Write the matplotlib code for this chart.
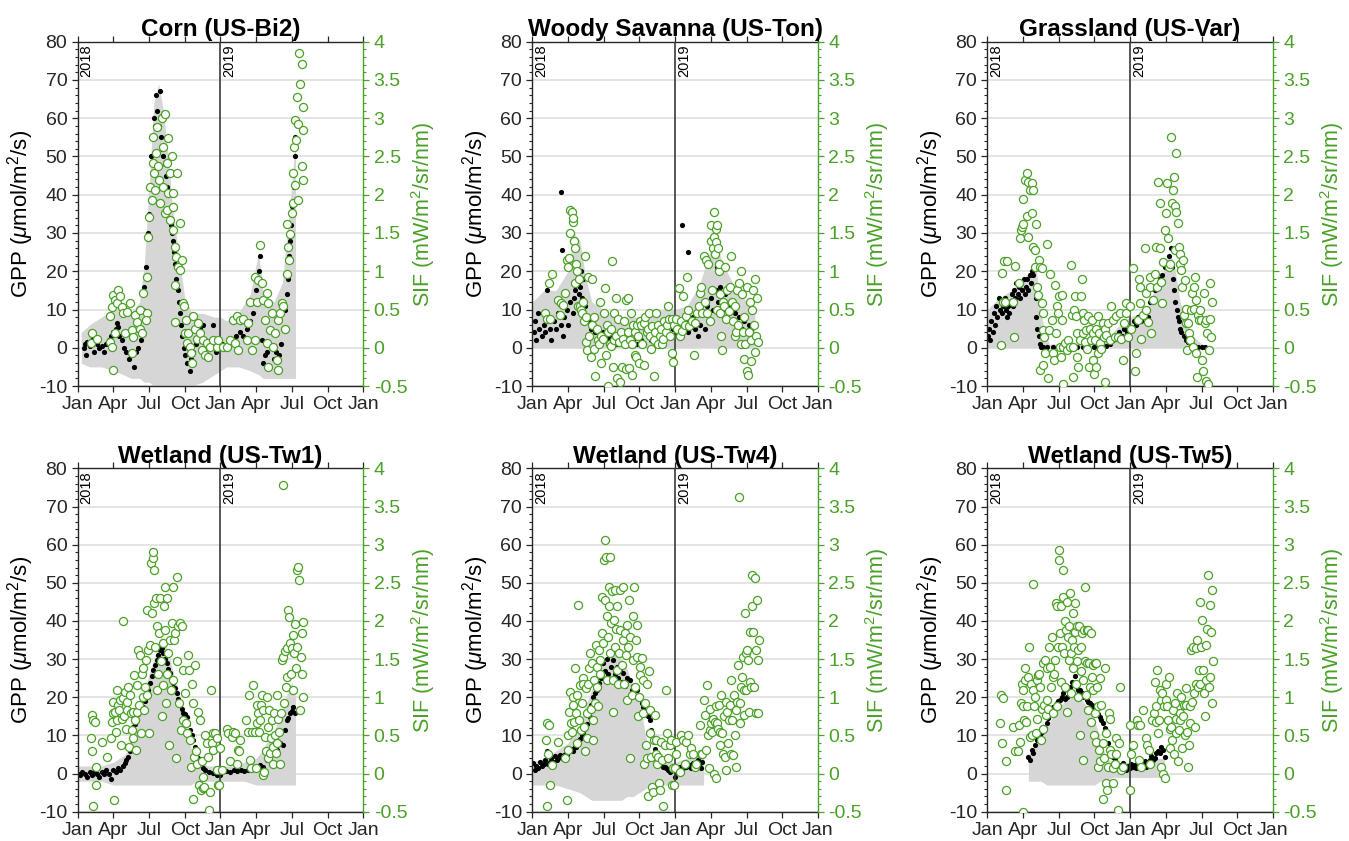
import matplotlib.pyplot as plt
from matplotlib.ticker import MultipleLocator, FuncFormatter

plt.rcParams['font.family'] = ['Liberation Sans', 'DejaVu Sans']
plt.rcParams['mathtext.fontset'] = 'custom'
plt.rcParams['mathtext.rm'] = 'Liberation Sans'
plt.rcParams['mathtext.it'] = 'Liberation Sans:italic'
plt.rcParams['axes.unicode_minus'] = False

# x values are months since 1 Jan 2018
month_ticks = [0, 3, 6, 9, 12, 15, 18, 21, 24]
month_labels = ['Jan', 'Apr', 'Jul', 'Oct', 'Jan', 'Apr', 'Jul', 'Oct', 'Jan']

# ---------------- Corn (US-Bi2) ----------------
bi2_cloud = [(0.3, -4, 4), (1.0, -5, 6), (2.0, -5, 8), (3.0, -6, 10), (3.8, -7, 11), (4.5, -8, 9),
             (5.2, -8, 12), (5.6, -9, 22), (6.0, -9, 42), (6.4, -10, 64), (6.8, -10, 69), (7.2, -10, 62),
             (7.6, -10, 50), (8.0, -10, 36), (8.5, -10, 24), (9.0, -10, 13), (9.6, -10, 9), (10.5, -9, 9),
             (11.5, -7, 8), (12.0, -6, 8), (12.5, -5, 7), (13.5, -5, 9), (14.5, -6, 14), (15.2, -7, 25),
             (15.6, -8, 14), (16.5, -8, 12), (17.2, -8, 17), (17.6, -8, 30), (18.0, -8, 43), (18.3, -8, 55)]
bi2_gpp = [(0.5, 0), (0.6, 1), (0.7, -2), (0.8, 1.5), (1.0, 0.5), (1.2, 2), (1.4, -1), (1.6, 1), (1.8, 0),
           (2.0, 0.5), (2.2, -1), (2.4, 1), (2.6, 2), (2.8, 3), (3.0, 4), (3.2, 5), (3.3, 6.5), (3.4, 5.5),
           (3.5, 3), (3.7, 2), (3.9, 0), (4.1, -1), (4.3, -3), (4.5, -2), (4.7, -5), (4.9, -1), (5.1, 0),
           (5.3, 2), (5.5, 10), (5.6, 16), (5.75, 21), (5.9, 30), (6.0, 35), (6.1, 42), (6.2, 50), (6.3, 55),
           (6.4, 60), (6.5, 58), (6.6, 66), (6.7, 62), (6.8, 58), (6.9, 67), (7.0, 55), (7.1, 52), (7.2, 50),
           (7.3, 48), (7.4, 45), (7.5, 42), (7.6, 40), (7.7, 36), (7.8, 32), (7.9, 30), (8.0, 28), (8.1, 25),
           (8.2, 22), (8.3, 18), (8.4, 15), (8.5, 12), (8.6, 9), (8.7, 6), (8.8, 3), (8.9, 0), (9.0, -2),
           (9.2, -4), (9.4, -6), (9.5, -3), (9.7, -1), (9.9, 1), (10.1, 3), (10.3, 5), (10.5, 6), (10.7, 2),
           (10.9, 0), (11.2, 1), (11.4, 6), (11.6, -1), (11.8, 1), (12.1, 1), (12.4, 0.5), (12.7, 1.5),
           (13.0, 2), (13.3, 3), (13.6, 4), (13.9, 3), (14.2, 5), (14.5, 7), (14.7, 9), (14.9, 12), (15.0, 15),
           (15.1, 18), (15.2, 20), (15.3, 24), (15.45, 2), (15.55, -4), (15.7, -2), (15.9, -1), (16.1, -5),
           (16.3, 0), (16.5, -3), (16.7, -1), (16.9, -2), (17.1, 1), (17.3, 5), (17.45, 10), (17.55, 14),
           (17.65, 18), (17.75, 24), (17.85, 28), (17.95, 32), (18.05, 37), (18.15, 42), (18.25, 50), (18.3, 55)]
bi2_sif = [(1.09, 0.06), (1.18, 0.19), (1.6, 0.12), (2.72, 0.08), (2.86, 0.01), (3.0, -0.29), (2.72, 0.41),
           (2.86, 0.53), (3.0, 0.69), (3.14, 0.62), (3.28, 0.58), (3.42, 0.75), (3.56, 0.67), (3.7, 0.53),
           (3.14, 0.19), (3.84, 0.45), (3.98, 0.19), (4.12, 0.47), (4.4, 0.58), (4.54, 0.23), (4.68, 0.14),
           (4.54, -0.07), (4.82, 0.43), (4.96, 0.34), (5.24, 0.49), (5.24, 0.25), (5.38, 0.19), (5.52, 0.71),
           (5.8, 0.45), (5.74, 0.36), (5.8, 0.93), (5.94, 1.45), (6.02, 1.71), (6.08, 2.1), (6.22, 1.93),
           (6.3, 2.41), (6.36, 2.76), (6.41, 2.28), (6.5, 2.06), (6.58, 2.54), (6.64, 2.89), (6.78, 2.37),
           (6.86, 2.19), (6.92, 1.89), (7.06, 3.0), (7.2, 2.63), (7.2, 2.1), (7.34, 3.06), (7.34, 1.76),
           (7.48, 2.41), (7.48, 1.8), (7.62, 2.74), (7.62, 2.02), (7.76, 2.28), (7.76, 1.67), (7.9, 2.5),
           (7.98, 2.02), (7.98, 1.84), (8.04, 1.54), (8.18, 1.32), (8.32, 2.28), (8.26, 1.19), (8.46, 1.06),
           (8.6, 1.02), (8.74, 1.15), (8.6, 1.63), (8.18, 0.82), (8.18, 0.34), (8.82, 0.58), (8.93, 0.54),
           (9.02, 0.19), (9.1, 0.36), (9.16, 0.06), (9.3, 0.19), (9.44, 0.01), (9.5, -0.07), (9.58, -0.2),
           (9.72, 0.41), (9.86, 0.25), (10.0, 0.12), (10.14, 0.32), (10.28, 0.19), (10.42, -0.03), (10.56, 0.1),
           (10.7, -0.09), (10.84, 0.06), (10.98, -0.12), (11.12, 0.01), (11.4, 0.1), (11.68, 0.01), (11.82, 0.1),
           (12.18, 0.01), (12.52, 0.01), (12.8, 0.1), (13.08, 0.36), (13.22, 0.06), (13.36, 0.41), (13.5, -0.03),
           (13.64, 0.36), (13.92, 0.38), (14.2, 0.1), (14.34, 0.32), (14.48, 0.6), (14.62, -0.03), (14.9, 0.1),
           (14.9, 0.93), (15.04, 0.6), (15.18, 0.88), (15.32, 1.34), (15.46, 0.84), (15.6, 0.62), (15.74, 0.36),
           (15.88, 0.71), (15.88, 0.06), (16.02, 0.58), (16.02, -0.25), (16.16, 0.23), (16.3, 0.45), (16.44, 0.01),
           (16.58, 0.19), (16.72, -0.16), (16.86, -0.29), (16.86, 0.36), (17.0, 0.45), (17.14, 0.58), (17.28, 0.54),
           (17.42, 0.25), (17.56, 0.97), (17.61, 1.62), (17.7, 1.32), (17.78, 1.15), (17.84, 1.49), (17.98, 1.76),
           (18.06, 1.89), (18.12, 2.28), (18.17, 2.63), (18.26, 2.13), (18.26, 2.98), (18.34, 2.71), (18.4, 3.28),
           (18.48, 1.93), (18.54, 2.93), (18.59, 3.85), (18.68, 3.45), (18.82, 3.71), (18.82, 2.37), (18.9, 2.19),
           (18.96, 3.15), (18.96, 2.84)]

# ---------------- Woody Savanna (US-Ton) ----------------
ton_cloud = [(0.0, 0, 12), (1.0, 0, 15), (2.0, 0, 15), (3.0, 0, 20), (3.5, 0, 30), (4.0, 0, 28), (4.5, 0, 18),
             (5.0, 0, 12), (6.0, 0, 10), (7.0, 0, 8), (8.0, 0, 8), (9.0, 0, 8), (10.0, 0, 9), (11.0, 0, 10),
             (12.0, 0, 10), (13.0, 0, 11), (14.0, 0, 16), (15.0, 0, 26), (15.5, 0, 27), (16.0, 0, 22),
             (17.0, 0, 16), (18.0, 0, 12), (18.7, 0, 10)]
ton_gpp = [(0.1, 4), (0.2, 7), (0.3, 2), (0.5, 9), (0.6, 5), (0.8, 3), (1.0, 6), (1.1, 4), (1.2, 15), (1.3, 8),
           (1.5, 5), (1.6, 2), (1.8, 7), (2.0, 5), (2.2, 9), (2.4, 6), (2.43, 40.8), (2.5, 25.6), (2.55, 3),
           (2.7, 8), (2.9, 10), (3.0, 6), (3.2, 12), (3.4, 9), (3.5, 13), (3.6, 15), (3.7, 11), (3.8, 17),
           (3.9, 14), (4.0, 16), (4.1, 20), (4.2, 13), (4.3, 18), (4.4, 11), (4.5, 8), (4.7, 7), (4.9, 5),
           (5.1, 6), (5.3, 4), (5.5, 5), (5.7, 3), (5.9, 4), (6.1, 3), (6.3, 2), (6.5, 3), (6.7, 2), (6.9, 3),
           (7.1, 1), (7.3, 2), (7.6, 1), (7.9, 2), (8.2, 1), (8.5, 2), (8.8, 1), (9.1, 2), (9.4, 1), (9.7, 3),
           (10.0, 2), (10.3, 4), (10.6, 3), (10.9, 5), (11.2, 4), (11.5, 6), (11.8, 5), (12.1, 4), (12.3, 6),
           (12.5, 3), (12.59, 32.2), (12.7, 5), (12.9, 7), (13.1, 25.1), (13.1, 4), (13.3, 6), (13.5, 8),
           (13.7, 5), (13.9, 3), (14.1, 6), (14.3, 9), (14.5, 5), (14.7, 11), (14.9, 7), (15.0, 13), (15.2, 10),
           (15.4, 15), (15.5, 21), (15.6, 12), (15.8, 16), (16.0, 10), (16.2, 14), (16.4, 8), (16.6, 11),
           (16.8, 7), (17.0, 9), (17.2, 6), (17.4, 8), (17.6, 5), (17.8, 7), (18.0, 4), (18.2, 6), (18.4, 5)]
ton_sif = [(1.06, 0.45), (1.2, 0.38), (1.48, 0.38), (1.4, 0.84), (1.62, 0.97), (2.32, 0.43), (2.18, 0.62),
           (2.37, 0.58), (2.6, 0.56), (2.74, 0.71), (2.9, 1.15), (3.0, 1.05), (3.1, 1.17), (3.2, 1.5), (3.15, 1.8),
           (3.35, 1.78), (3.4, 1.65), (3.45, 1.7), (3.5, 1.4), (3.6, 1.3), (3.7, 1.1), (3.55, 0.85), (3.75, 1.0),
           (3.8, 0.55), (3.9, 0.9), (4.0, 0.55), (4.1, 0.5), (4.2, 0.45), (4.3, 0.6), (4.35, 0.35), (4.45, 1.2),
           (4.5, 0.4), (4.55, 0.08), (4.6, -0.03), (4.7, 0.92), (4.8, 0.15), (4.9, -0.12), (5.0, 0.3),
           (5.05, 0.9), (5.15, -0.02), (5.2, 0.4), (5.3, -0.37), (5.4, 0.25), (5.5, 0.1), (5.6, 0.05), (5.7, 0.6),
           (5.75, -0.2), (5.8, 0.15), (5.9, 0.12), (6.0, 0.45), (6.1, 0.78), (6.2, -0.1), (6.25, 0.3),
           (6.35, -0.5), (6.4, 0.2), (6.5, 0.05), (6.6, 0.25), (6.65, 0.02), (6.7, 1.13), (6.8, -0.25),
           (6.85, 0.45), (6.9, 0.1), (7.0, 0.65), (7.05, 0.15), (7.15, -0.4), (7.2, 0.38), (7.3, 0.08),
           (7.4, -0.45), (7.45, 0.2), (7.55, -0.25), (7.6, 0.12), (7.7, 0.35), (7.8, 0.05), (7.85, -0.28),
           (7.9, 0.63), (8.0, 0.2), (8.05, 0.65), (8.1, -0.27), (8.2, 0.1), (8.3, 0.45), (8.35, 0.05),
           (8.4, -0.36), (8.5, 0.3), (8.6, -0.1), (8.65, 0.2), (8.75, -0.12), (8.8, 0.3), (8.9, 0.15),
           (9.0, -0.2), (9.05, 0.35), (9.15, 0.3), (9.25, 0.05), (9.35, -0.23), (9.4, 0.32), (9.5, 0.4),
           (9.6, 0.2), (9.7, 0.25), (9.8, 0.45), (9.9, 0.15), (10.0, -0.02), (10.1, 0.28), (10.2, 0.1),
           (10.25, -0.37), (10.35, 0.2), (10.4, 0.45), (10.55, 0.05), (10.6, 0.3), (10.7, 0.15), (10.8, 0.25),
           (10.9, 0.05), (11.0, 0.12), (11.1, 0.35), (11.2, 0.2), (11.3, 0.3), (11.4, 0.55), (11.5, 0.38),
           (11.6, 0.15), (11.7, 0.38), (11.75, -0.07), (11.85, -0.18), (11.9, 0.3), (12.1, 0.38), (12.2, 0.25),
           (12.3, 0.78), (12.4, 0.15), (12.5, 0.35), (12.6, 0.22), (12.7, 0.68), (12.8, 0.3), (12.9, 0.42),
           (13.0, 0.92), (13.1, 0.5), (13.2, 0.28), (13.4, 0.35), (13.6, -0.1), (13.7, 0.32), (13.8, 0.45),
           (14.0, 0.55), (14.1, 0.72), (14.2, 0.8), (14.25, 0.45), (14.4, 1.2), (14.5, 0.6), (14.6, 1.15),
           (14.7, 0.45), (14.8, 1.1), (14.9, 0.35), (15.0, 1.4), (15.05, 1.6), (15.1, 0.75), (15.2, 1.3),
           (15.25, 1.45), (15.3, 1.78), (15.35, 1.22), (15.4, 1.38), (15.45, 1.55), (15.5, 1.6), (15.55, 0.5),
           (15.6, 1.3), (15.65, 1.0), (15.7, 1.1), (15.75, 0.7), (15.8, 0.45), (15.85, 0.15), (15.9, -0.03),
           (16.0, 0.6), (16.1, 0.55), (16.2, 1.05), (16.3, 0.38), (16.4, 0.75), (16.5, 0.48), (16.6, 0.8),
           (16.7, 1.2), (16.8, 0.6), (16.9, 0.35), (17.0, 0.15), (17.05, 0.55), (17.1, 0.2), (17.2, 0.75),
           (17.3, 0.3), (17.4, 0.85), (17.5, 1.0), (17.55, 0.05), (17.6, 0.7), (17.7, 0.2), (17.75, -0.15),
           (17.8, 0.4), (17.9, 0.05), (18.0, 0.8), (18.05, -0.3), (18.1, -0.35), (18.2, 0.2), (18.3, 0.6),
           (18.35, -0.17), (18.4, 0.1), (18.5, 0.5), (18.55, 0.75), (18.6, 0.3), (18.7, -0.05), (18.75, 0.9),
           (18.8, 0.15), (18.9, 0.65), (18.95, 0.08)]

# ---------------- Grassland (US-Var) ----------------
var_cloud = [(0.0, 0, 10), (1.0, 0, 13), (2.0, 0, 15), (3.0, 0, 18), (3.6, 0, 20), (4.1, 0, 21), (4.4, 0, 12),
             (4.8, 0, 4), (5.2, 0, 1), (6.0, 0, 1), (8.0, 0, 1), (10.0, 0, 2), (10.8, 0, 5), (11.5, 0, 7),
             (12.0, 0, 8), (12.8, 0, 9), (13.5, 0, 11), (14.2, 0, 16), (14.8, 0, 20), (15.3, 0, 25),
             (15.7, 0, 22), (16.2, 0, 12), (16.8, 0, 6), (17.3, 0, 3), (18.0, 0, 1), (18.6, 0, 0.5)]
var_gpp = [(0.05, 3), (0.15, 5), (0.25, 2), (0.35, 7), (0.45, 4), (0.55, 9), (0.65, 6), (0.75, 11), (0.85, 8),
           (0.95, 13), (1.05, 10), (1.15, 12), (1.25, 9), (1.35, 11), (1.45, 13), (1.55, 10), (1.65, 8),
           (1.75, 11), (1.85, 9), (1.95, 12), (2.05, 14), (2.15, 11), (2.25, 15), (2.35, 13), (2.45, 17),
           (2.55, 14), (2.65, 16), (2.75, 13), (2.85, 17), (2.95, 15), (3.05, 18), (3.15, 14), (3.25, 16),
           (3.35, 18), (3.45, 15), (3.55, 19), (3.65, 17), (3.75, 20), (3.85, 19), (3.95, 21), (4.05, 13),
           (4.1, 8), (4.2, 5), (4.3, 3), (4.4, 1), (4.55, 0.3), (4.7, 0.2), (5.0, 0.2), (5.5, 0.3), (6.0, 0.2),
           (6.5, 0.4), (7.0, 0.3), (7.5, 0.2), (8.0, 0.3), (8.5, 0.2), (9.0, 0.3), (9.5, 0.2), (10.0, 0.5),
           (10.3, 1), (10.6, 2), (10.9, 3), (11.1, 4), (11.3, 3), (11.5, 5), (11.7, 4), (11.9, 3), (12.1, 5),
           (12.3, 7), (12.5, 6), (12.7, 8), (12.9, 7), (13.1, 9), (13.3, 10), (13.5, 8), (13.7, 12), (13.9, 13),
           (14.1, 15), (14.3, 16), (14.5, 18), (14.7, 19), (14.9, 21), (15.1, 22), (15.3, 24), (15.4, 26),
           (15.5, 21), (15.6, 18), (15.7, 15), (15.8, 12), (15.9, 10), (16.0, 8), (16.1, 7), (16.2, 5),
           (16.3, 4), (16.5, 3), (16.7, 2), (16.9, 1.5), (17.1, 1), (17.4, 0.5), (17.7, 0.3), (18.0, 0.2),
           (18.3, 0.3)]
var_sif = [(1.2, 0.98), (1.34, 0.6), (1.48, 0.6), (1.43, 1.14), (1.62, 1.14), (1.12, 0.04), (2.18, 0.6),
           (2.27, 0.14), (2.32, 1.07), (2.69, 0.84), (2.74, 1.43), (2.8, 1.54), (2.88, 1.58), (2.97, 1.62),
           (3.02, 1.95), (3.16, 2.19), (3.3, 1.72), (3.36, 2.28), (3.44, 2.17), (3.44, 1.45), (3.58, 2.06),
           (3.72, 1.76), (3.72, 2.15), (3.86, 2.06), (3.86, 1.32), (4.0, 1.28), (4.0, 1.06), (4.08, 1.62),
           (4.14, 0.8), (4.28, 0.69), (4.36, 1.15), (4.42, 1.06), (4.56, 1.04), (4.56, 0.58), (4.64, 0.45),
           (4.7, 0.23), (4.76, 0.14), (4.84, -0.07), (4.42, -0.29), (4.7, -0.22), (4.98, 1.36), (5.12, -0.4),
           (5.26, 0.97), (5.2, 0.23), (5.4, 0.36), (5.48, -0.07), (5.62, -0.16), (5.68, 0.82), (5.76, 0.19),
           (5.82, 0.54), (5.96, 0.45), (6.04, 0.67), (6.1, 0.01), (6.15, -0.12), (6.24, 0.69), (6.24, 0.36),
           (6.38, -0.47), (6.38, 0.01), (6.52, 0.06), (6.66, -0.03), (6.8, 0.1), (6.94, 0.01), (7.02, 1.08),
           (7.08, 0.43), (7.22, 0.01), (7.22, -0.38), (7.27, 0.49), (7.36, 0.68), (7.44, 0.41), (7.5, -0.12),
           (7.55, 0.19), (7.64, -0.25), (7.78, 0.1), (7.86, 0.67), (7.92, 0.9), (8.0, 0.19), (8.06, 0.45),
           (8.14, 0.36), (8.2, 0.08), (8.28, 0.23), (8.34, -0.01), (8.48, 0.41), (8.56, -0.25), (8.62, 0.25),
           (8.67, 0.1), (8.76, 0.36), (8.84, 0.19), (8.9, -0.16), (8.95, -0.34), (9.04, 0.1), (9.12, 0.25),
           (9.17, -0.25), (9.26, -0.07), (9.31, 0.41), (9.4, 0.19), (9.45, 0.06), (9.59, -0.01), (9.68, 0.32),
           (9.79, 0.14), (9.87, -0.45), (9.87, 0.25), (10.01, 0.17), (10.15, 0.32), (10.29, 0.1), (10.43, 0.54),
           (10.57, 0.36), (10.71, 0.14), (10.85, 0.41), (10.99, 0.14), (11.13, 0.45), (11.27, 0.12),
           (11.36, -0.16), (11.47, 0.32), (11.64, 0.58), (11.69, 0.45), (11.83, 0.14), (11.97, 0.54),
           (12.11, 0.25), (12.25, 1.04), (12.39, -0.31), (12.53, -0.07), (12.62, 0.36), (12.76, 0.9),
           (12.81, 0.8), (12.87, 0.58), (12.95, 0.12), (13.09, 0.43), (13.23, 1.3), (13.31, 0.71), (13.37, 0.49),
           (13.51, 0.34), (13.65, 0.93), (13.71, 0.8), (13.79, 0.19), (13.93, 0.62), (14.07, 0.97), (14.21, 1.32),
           (14.27, 0.79), (14.35, 2.17), (14.49, 1.89), (14.55, 1.3), (14.63, 0.86), (14.71, 0.58), (14.77, 1.12),
           (14.91, 1.54), (15.05, 1.76), (15.1, 2.15), (15.19, 1.43), (15.27, 1.06), (15.33, 1.1), (15.47, 2.76),
           (15.55, 1.89), (15.61, 2.06), (15.69, 2.23), (15.75, 1.85), (15.75, 1.28), (15.83, 2.54),
           (15.89, 1.78), (16.03, 1.63), (16.11, 1.32), (16.17, 1.1), (16.22, 1.23), (16.31, 1.02), (16.39, 0.8),
           (16.45, 1.15), (16.5, 0.43), (16.59, 0.88), (16.67, 0.32), (16.73, 0.51), (16.78, -0.03), (16.87, 0.32),
           (16.95, 0.19), (17.06, 0.1), (17.15, 0.49), (17.23, 0.71), (17.29, 0.01), (17.34, 0.51), (17.4, 0.8),
           (17.45, 0.93), (17.51, 0.62), (17.57, -0.07), (17.62, -0.38), (17.71, 0.43), (17.79, 0.36),
           (17.85, 0.49), (17.99, 0.36), (18.07, -0.16), (18.13, -0.31), (18.18, 0.71), (18.27, 0.32),
           (18.35, 0.36), (18.41, -0.43), (18.46, 0.19), (18.55, -0.47), (18.63, -0.03), (18.69, 0.84),
           (18.74, 0.38), (18.83, 0.14), (18.91, 0.6)]

# ---------------- Wetland (US-Tw1) ----------------
tw1_cloud = [(0.0, -2, 2), (1.0, -2, 2), (2.0, -2, 2), (3.0, -3, 3), (4.0, -3, 5), (4.5, -3, 8), (5.0, -3, 13),
             (5.5, -3, 20), (6.0, -3, 26), (6.5, -3, 31), (7.0, -3, 36), (7.5, -3, 33), (8.0, -3, 27),
             (8.5, -3, 21), (9.0, -3, 14), (9.5, -3, 7), (10.0, -2, 3), (11.0, -2, 2), (12.0, -2, 2),
             (13.0, -2, 2), (14.0, -2, 3), (15.0, -3, 4), (15.5, -3, 6), (16.0, -3, 9), (16.5, -3, 11),
             (17.0, -3, 15), (17.5, -3, 20), (18.0, -3, 24), (18.3, -3, 20)]
tw1_gpp = [(0.0, 0), (0.2, -0.5), (0.4, 0.5), (0.6, 0), (0.8, -1), (1.0, 0.3), (1.2, -0.3), (1.4, 0.5),
           (1.6, 0), (1.8, -1), (2.0, 0.5), (2.2, 0), (2.4, 1), (2.6, 0), (2.8, -1.5), (3.0, 1), (3.2, 0.5),
           (3.4, 1.5), (3.56, 0.9), (3.8, 2), (3.98, 2.7), (4.1, 3.5), (4.26, 4.4), (4.4, 6), (4.54, 8.8),
           (4.68, 12.3), (4.82, 13), (4.96, 14), (5.1, 15.5), (5.24, 16.7), (5.38, 17), (5.52, 17.5),
           (5.66, 19), (5.8, 20.2), (5.94, 22), (6.08, 23.7), (6.22, 25.5), (6.36, 27.1), (6.5, 28.5),
           (6.64, 29.8), (6.78, 31), (6.92, 32.4), (7.06, 33), (7.2, 31.5), (7.34, 30), (7.48, 28.9),
           (7.62, 27.5), (7.76, 26.3), (7.9, 25), (8.04, 23.7), (8.18, 22.5), (8.32, 21), (8.46, 19.5),
           (8.6, 18.4), (8.74, 17), (8.88, 15.8), (9.02, 15.5), (9.16, 14.9), (9.3, 13), (9.44, 11.4),
           (9.58, 10), (9.72, 8.8), (9.86, 7), (10.0, 5.3), (10.14, 4), (10.28, 2.7), (10.5, 1.5), (10.7, 0.9),
           (11.0, 0.5), (11.4, 0.05), (11.7, -0.5), (11.96, -0.4), (12.2, 0.6), (12.5, 0.8), (12.8, 0.5),
           (13.1, 0.9), (13.4, 0.6), (13.7, 1), (14.0, 0.7), (14.3, 0.9), (14.6, 1.1), (15.04, 1.4),
           (15.3, 2.2), (15.6, 1.8), (15.88, 3.5), (16.16, 4.4), (16.44, 6.2), (16.72, 6.2), (17.0, 7.9),
           (17.28, 7.5), (17.42, 11.4), (17.56, 14), (17.7, 14.5), (17.84, 15.8), (18.0, 16.5), (18.12, 17.5),
           (18.26, 15.8)]
tw1_sif = [(1.18, 0.77), (1.26, 0.70), (1.46, 0.68), (1.12, 0.46), (1.2, 0.29), (1.26, -0.43), (1.54, 0.09),
           (1.51, -0.15), (2.02, 0.42), (2.44, 0.22), (2.77, 0.46), (2.86, 0.68), (2.94, 0.79), (3.0, 0.94),
           (3.05, -0.35), (3.14, 0.81), (3.22, 0.55), (3.28, 1.09), (3.33, 0.70), (3.42, 0.90), (3.5, 0.83),
           (3.56, 0.96), (3.61, 0.37), (3.7, 0.72), (3.78, 0.99), (3.84, 2.0), (3.89, 0.75), (3.98, 1.07),
           (4.06, 0.59), (4.12, 0.94), (4.17, 0.83), (4.26, 1.14), (4.34, 0.35), (4.4, 1.03), (4.45, 0.79),
           (4.54, 0.57), (4.62, 0.46), (4.68, 0.81), (4.73, 1.29), (4.82, 0.70), (4.9, 0.31), (4.96, 1.16),
           (5.01, 0.81), (5.1, 1.62), (5.18, 0.90), (5.24, 1.55), (5.29, 0.53), (5.38, 1.31), (5.46, 1.01),
           (5.52, 1.38), (5.57, 0.83), (5.66, 1.14), (5.74, 1.49), (5.8, 2.14), (5.85, 1.03), (5.94, 1.62),
           (6.02, 0.53), (6.08, 1.69), (6.13, 2.76), (6.22, 2.1), (6.3, 2.82), (6.36, 2.91), (6.41, 2.23),
           (6.44, 2.67), (6.5, 1.66), (6.58, 2.3), (6.64, 1.09), (6.69, 1.93), (6.78, 1.31), (6.86, 1.84),
           (6.92, 2.30), (6.97, 1.47), (7.06, 0.75), (7.14, 1.71), (7.2, 1.16), (7.25, 2.19), (7.34, 2.45),
           (7.34, 1.88), (7.42, 0.92), (7.48, 1.31), (7.53, 2.3), (7.62, 1.58), (7.7, 0.37), (7.76, 1.75),
           (7.81, 1.09), (7.9, 1.97), (7.98, 2.45), (8.04, 1.23), (8.09, 1.75), (8.18, 1.84), (8.26, 0.2),
           (8.32, 2.58), (8.37, 1.47), (8.46, 1.93), (8.54, 0.92), (8.6, 1.97), (8.65, 0.57), (8.74, 1.93),
           (8.82, 1.36), (8.88, 0.70), (9.02, 1.05), (9.1, 0.66), (9.21, 0.53), (9.3, 1.55), (9.38, 1.36),
           (9.44, 0.44), (9.49, 0.09), (9.58, 1.18), (9.66, -0.33), (9.72, 0.92), (9.77, 0.22), (9.86, 1.42),
           (9.94, 0.29), (10.0, 0.13), (10.14, 0.81), (10.22, -0.15), (10.28, 0.70), (10.36, -0.22),
           (10.42, 0.16), (10.5, -0.04), (10.56, -0.19), (10.61, -0.17), (10.7, 0.5), (10.84, 0.40),
           (10.92, 0.22), (11.06, -0.48), (11.12, -0.24), (11.17, 1.09), (11.26, 0.40), (11.34, 0.53),
           (11.4, 0.31), (11.54, 0.53), (11.68, 0.05), (11.73, 0.46), (11.82, -0.15), (11.9, -0.15),
           (11.96, 0.33), (12.1, 0.05), (12.52, 0.59), (12.66, 0.53), (12.8, 0.16), (12.94, 0.48), (13.08, 0.55),
           (13.22, 0.53), (13.36, 0.13), (13.5, 0.31), (13.58, 0.29), (13.64, 0.44), (14.14, 0.70), (14.34, 0.55),
           (14.42, 1.03), (14.48, 0.18), (14.53, 0.07), (14.62, 0.55), (14.76, 1.16), (14.9, 0.55), (14.98, 0.07),
           (15.04, 0.66), (15.09, 0.90), (15.18, 0.79), (15.26, 0.55), (15.32, 0.70), (15.37, 0.90),
           (15.46, 1.03), (15.54, 0.83), (15.6, -0.02), (15.65, 0.02), (15.74, 0.48), (15.82, 0.29),
           (15.88, 1.01), (15.96, 0.61), (16.02, 0.2), (16.1, 0.83), (16.16, 0.27), (16.21, 0.46), (16.3, 0.70),
           (16.38, 0.35), (16.44, 0.13), (16.52, 0.79), (16.58, 0.5), (16.66, 0.27), (16.72, 1.03), (16.77, 0.40),
           (16.86, 0.72), (16.94, 0.55), (17.0, 0.13), (17.05, 0.79), (17.14, 1.49), (17.22, 3.78), (17.28, 1.53),
           (17.33, 0.92), (17.42, 1.6), (17.5, 1.14), (17.56, 1.64), (17.61, 1.27), (17.7, 2.14), (17.78, 2.05),
           (17.84, 1.71), (17.89, 1.31), (17.98, 1.64), (18.06, 1.09), (18.12, 1.82), (18.17, 1.58),
           (18.26, 1.96), (18.34, 1.38), (18.4, 1.66), (18.45, 2.67), (18.54, 2.71), (18.62, 2.54), (18.68, 0.83),
           (18.73, 1.53), (18.82, 1.84), (18.9, 1.99), (18.96, 1.01), (18.82, 1.31)]

# ---------------- Wetland (US-Tw4) ----------------
tw4_cloud = [(0.0, -3, 3), (1.0, -3, 4), (2.0, -3, 6), (3.0, -4, 8), (4.0, -5, 13), (4.5, -6, 18),
             (5.0, -7, 22), (5.5, -7, 27), (6.0, -7, 30), (6.5, -7, 31), (7.0, -7, 31), (7.5, -7, 30),
             (8.0, -6, 27), (8.5, -6, 23), (9.0, -5, 20), (9.5, -4, 10), (10.0, -3, 5), (11.0, -3, 3),
             (12.0, -3, 3), (13.0, -3, 4), (14.0, -3, 5), (14.4, -3, 5)]
tw4_gpp = [(0.08, 2.7), (0.2, 1), (0.35, 2), (0.5, 1.5), (0.65, 3), (0.8, 2), (0.95, 2.5), (1.1, 3.5),
           (1.2, 6), (1.3, 2.5), (1.45, 3), (1.6, 4), (1.75, 3), (1.9, 4.5), (2.05, 3.5), (2.2, 4), (2.35, 5),
           (2.5, 4), (2.65, 5), (2.8, 5.5), (2.95, 5), (3.1, 6), (3.25, 6.5), (3.4, 6), (3.55, 7), (3.7, 7),
           (3.85, 8), (4.0, 9), (4.15, 10), (4.3, 11), (4.45, 12), (4.6, 13), (4.84, 14.9), (4.95, 18),
           (5.1, 20), (5.26, 21), (5.4, 22), (5.6, 23.7), (5.75, 25), (5.96, 28.9), (6.1, 27), (6.25, 30),
           (6.4, 26), (6.52, 31.5), (6.65, 28), (6.8, 29.8), (6.95, 26), (7.08, 28), (7.2, 25), (7.35, 27),
           (7.5, 24), (7.64, 26.3), (7.8, 23), (7.95, 25), (8.2, 24.5), (8.35, 22), (8.5, 23), (8.76, 21.9),
           (8.9, 20), (9.04, 20.2), (9.18, 18.5), (9.32, 17.5), (9.46, 16.5), (9.6, 15.8), (9.74, 15),
           (9.88, 14), (10.0, 11.5), (10.15, 8.8), (10.3, 6.5), (10.43, 4.4), (10.57, 3.5), (10.71, 2.7),
           (10.85, 2.2), (11.0, 1.8), (11.14, 1.6), (11.27, 1.4), (11.41, 1), (11.55, 0.5), (11.7, 1.2),
           (11.83, 0.9), (11.97, -0.8), (12.1, 0.5), (12.25, 1.2), (12.39, 1.8), (12.53, 1), (12.67, 1.4),
           (12.81, 2.4), (12.95, 1.8), (13.09, 2), (13.23, 2.2), (13.37, 1.5), (13.51, 2.7), (13.65, 2),
           (13.79, 1.8), (13.93, 3.5), (14.07, 2.7), (14.18, 1.5), (14.29, 3.1)]
tw4_sif = [(1.12, 0.44), (1.2, 0.66), (1.34, 0.26), (1.4, 0.64), (1.48, -0.15), (1.2, -0.43), (1.62, 0.11),
           (2.18, 0.42), (2.74, 0.2), (2.88, -0.35), (3.02, 0.31), (3.02, 0.5), (3.1, 0.81), (3.16, 1.07),
           (3.22, 0.66), (3.3, 0.55), (3.38, 1.01), (3.44, 0.9), (3.5, 0.68), (3.58, 1.38), (3.66, 0.79),
           (3.72, 0.4), (3.78, 1.03), (3.86, 2.21), (3.94, 0.70), (4.0, 1.16), (4.06, 0.57), (4.14, 0.92),
           (4.22, 1.25), (4.28, 1.18), (4.34, 0.61), (4.42, 0.29), (4.5, 1.12), (4.56, 0.79), (4.62, 0.46),
           (4.7, 1.18), (4.78, 1.38), (4.84, 1.58), (4.9, 0.85), (4.98, 1.45), (5.06, 0.70), (5.12, 0.44),
           (5.18, 1.23), (5.26, 0.92), (5.34, 1.69), (5.4, 1.4), (5.46, 1.14), (5.54, 0.88), (5.62, 1.62),
           (5.68, 1.31), (5.73, 1.49), (5.82, 2.32), (5.87, 1.84), (5.96, 1.71), (6.01, 2.8), (6.07, 2.27),
           (6.13, 3.06), (6.18, 2.84), (6.24, 2.06), (6.29, 1.23), (6.35, 1.79), (6.41, 2.45), (6.46, 2.19),
           (6.52, 2.84), (6.57, 1.58), (6.63, 1.97), (6.69, 2.39), (6.74, 0.81), (6.8, 1.23), (6.85, 2.01),
           (6.91, 1.66), (6.97, 2.41), (7.02, 1.90), (7.08, 1.36), (7.13, 2.19), (7.22, 1.18), (7.27, 1.58),
           (7.36, 1.88), (7.41, 2.41), (7.5, 1.42), (7.58, 1.75), (7.64, 2.45), (7.69, 1.18), (7.78, 1.84),
           (7.86, 1.55), (7.92, 1.95), (7.97, 0.96), (8.06, 1.66), (8.14, 2.27), (8.2, 0.2), (8.25, 1.79),
           (8.34, 1.03), (8.42, 2.06), (8.48, 1.49), (8.53, 2.45), (8.62, 1.14), (8.7, 1.75), (8.76, 1.95),
           (8.81, 1.53), (8.9, 0.75), (8.98, 1.01), (9.04, 1.4), (9.09, 1.29), (9.18, 1.51), (9.26, 0.79),
           (9.32, 1.23), (9.37, 0.13), (9.45, 0.92), (9.54, 0.37), (9.6, 0.2), (9.65, 1.18), (9.73, -0.3),
           (9.82, 1.34), (9.87, 0.83), (9.93, 0.53), (10.01, 0.22), (10.1, -0.17), (10.15, -0.24), (10.21, 0.44),
           (10.29, 0.77), (10.38, 0.26), (10.43, 0.44), (10.49, 0.13), (10.57, 0.22), (10.66, -0.13),
           (10.71, -0.22), (10.85, 0.42), (10.94, 0.18), (11.0, -0.43), (11.13, 0.37), (11.27, 1.09),
           (11.33, 0.53), (11.41, 0.2), (11.55, 0.37), (11.69, 0.44), (11.78, -0.15), (11.83, 0.07),
           (11.92, -0.15), (11.97, 0.07), (12.06, 0.26), (12.11, 0.42), (12.39, 0.02), (12.53, 0.5),
           (12.67, 0.44), (12.81, 0.13), (12.95, 0.42), (13.09, 0.5), (13.23, 0.26), (13.37, 0.33), (13.51, 0.26),
           (13.65, 0.09), (13.79, 0.13), (14.07, 0.64), (14.21, 0.26), (14.29, 0.26), (14.41, 0.96), (14.49, 0.77),
           (14.57, 0.31), (14.69, 1.16), (14.77, 0.5), (14.85, 0.07), (14.91, 0.57), (14.97, 0.85), (15.05, 0.66),
           (15.13, 0.55), (15.19, 0.72), (15.24, 0.0), (15.33, 0.68), (15.41, -0.06), (15.47, 0.88),
           (15.52, 0.66), (15.61, 0.59), (15.69, 0.9), (15.75, 0.55), (15.8, 0.37), (15.89, 1.03), (15.97, 0.53),
           (16.03, 0.26), (16.08, 0.75), (16.17, 0.22), (16.25, 0.94), (16.31, 0.05), (16.36, 0.81), (16.45, 0.4),
           (16.53, 0.7), (16.59, 0.9), (16.67, 0.26), (16.73, 1.23), (16.81, 0.70), (16.87, 0.24), (16.95, 1.03),
           (17.01, 0.5), (17.09, 0.09), (17.15, 0.83), (17.2, 0.94), (17.29, 1.42), (17.37, 3.62), (17.43, 0.66),
           (17.48, 0.92), (17.57, 1.14), (17.65, 1.27), (17.71, 1.53), (17.76, 0.77), (17.82, 1.09), (17.87, 2.1),
           (17.93, 1.58), (17.99, 1.09), (18.04, 1.62), (18.13, 1.49), (18.18, 0.81), (18.27, 1.2), (18.32, 1.86),
           (18.38, 1.14), (18.43, 2.19), (18.49, 2.6), (18.54, 1.86), (18.6, 1.14), (18.69, 2.56), (18.77, 1.62),
           (18.83, 0.79), (18.88, 2.27), (18.97, 1.49), (19.05, 1.75), (18.97, 0.79)]

# ---------------- Wetland (US-Tw5) ----------------
tw5_cloud = [(3.45, -2, 5), (4.0, -2, 7), (4.5, -2, 9), (5.0, -3, 12), (5.5, -3, 15), (6.0, -3, 17),
             (6.5, -3, 19), (7.0, -3, 21), (7.5, -3, 21), (8.0, -3, 19), (8.5, -3, 17), (9.0, -3, 14),
             (9.5, -2, 9), (10.0, -2, 4), (10.5, -1, 3), (11.0, -1, 3), (12.0, -1, 3), (13.0, -1, 3),
             (14.0, -1, 4), (14.9, -1, 4)]
tw5_gpp = [(3.44, 4.4), (3.58, 3.5), (3.72, 6.2), (3.86, 5.5), (4.0, 7.5), (4.14, 8.8), (4.28, 9),
           (4.42, 10.1), (4.56, 11), (4.7, 12.3), (4.84, 12), (4.98, 13.2), (5.12, 14.5), (5.26, 15.8),
           (5.4, 16.5), (5.54, 17.5), (5.68, 17), (5.82, 18.4), (5.96, 19), (6.1, 19.3), (6.24, 20),
           (6.38, 21), (6.52, 19.5), (6.66, 20.2), (6.8, 22), (6.94, 22.8), (7.08, 24), (7.22, 23.7),
           (7.36, 25.5), (7.5, 22.8), (7.64, 22), (7.78, 21.9), (7.92, 21), (8.06, 20.2), (8.2, 20),
           (8.34, 19.3), (8.48, 18.8), (8.62, 18.4), (8.76, 18), (8.9, 17.5), (9.04, 17.5), (9.17, 16.7),
           (9.31, 15.5), (9.45, 14.9), (9.59, 14), (9.73, 13.2), (9.87, 12), (10.01, 10.5), (10.15, 8),
           (10.29, 6.2), (10.43, 5), (10.57, 4.4), (10.71, 3.5), (10.85, 2.7), (10.99, 2), (11.13, 1.8),
           (11.27, 2.2), (11.41, 2.7), (11.55, 1.5), (11.69, 0.9), (11.83, 2), (11.97, 1.4), (12.11, 2.5),
           (12.25, 1.8), (12.39, 2.2), (12.53, 1.4), (12.67, 3), (12.81, 2.7), (12.95, 2), (13.09, 2.7),
           (13.23, 3.2), (13.37, 1.8), (13.51, 3), (13.65, 3.5), (13.79, 4.5), (13.93, 3.5), (14.07, 4),
           (14.21, 5.3), (14.35, 6), (14.49, 5.3), (14.63, 7), (14.77, 6.2), (14.91, 4.4)]
tw5_sif = [(1.06, 0.66), (1.15, 1.03), (1.23, 0.4), (1.29, 0.99), (1.54, -0.22), (1.57, 0.16), (2.13, 0.61),
           (2.32, 0.29), (2.6, 0.29), (2.69, 0.64), (2.74, 0.42), (2.97, -0.5), (2.8, 0.92), (2.88, 1.18),
           (2.97, 1.09), (3.02, 0.88), (3.08, 0.70), (3.13, 1.38), (3.19, 1.23), (3.24, 0.68), (3.3, 0.88),
           (3.44, 1.27), (3.52, 1.66), (3.58, 0.48), (3.64, 1.18), (3.72, 0.5), (3.8, 1.09), (3.86, 2.49),
           (3.92, 0.88), (4.0, 1.01), (4.08, 0.53), (4.14, 1.23), (4.2, 0.72), (4.28, 1.29), (4.36, 1.31),
           (4.42, 1.14), (4.48, 0.44), (4.56, 0.85), (4.64, 0.59), (4.7, 1.45), (4.76, 0.9), (4.84, 1.49),
           (4.92, 0.77), (4.98, 1.38), (5.03, 0.96), (5.12, 0.85), (5.2, 1.66), (5.26, 1.4), (5.31, 1.14),
           (5.4, 1.79), (5.48, 1.27), (5.54, 0.79), (5.59, 1.31), (5.68, 1.49), (5.76, 2.23), (5.82, 0.88),
           (5.87, 2.19), (5.93, 1.66), (5.99, 2.93), (6.04, 2.8), (6.1, 1.84), (6.15, 2.19), (6.21, 1.2),
           (6.27, 1.66), (6.32, 2.32), (6.38, 2.67), (6.43, 1.58), (6.49, 2.0), (6.55, 1.14), (6.6, 1.88),
           (6.66, 0.81), (6.71, 2.25), (6.77, 1.79), (6.83, 1.49), (6.88, 1.93), (6.94, 2.37), (6.99, 1.58),
           (7.05, 1.05), (7.1, 1.75), (7.16, 2.1), (7.22, 1.38), (7.27, 1.66), (7.33, 2.23), (7.38, 1.86),
           (7.44, 1.18), (7.5, 1.93), (7.55, 1.47), (7.61, 1.62), (7.66, 1.01), (7.72, 1.93), (7.78, 0.5),
           (7.83, 1.34), (7.89, 1.66), (7.94, 1.84), (8.0, 1.23), (8.06, 0.18), (8.11, 1.88), (8.17, 1.47),
           (8.22, 2.45), (8.28, 1.03), (8.34, 1.45), (8.39, 1.88), (8.45, 0.83), (8.5, 1.88), (8.56, 1.45),
           (8.62, 1.14), (8.67, 1.84), (8.73, 0.68), (8.78, 1.27), (8.84, 1.42), (8.9, 1.09), (8.95, 0.5),
           (9.01, 1.45), (9.06, 0.79), (9.12, 0.42), (9.17, 1.45), (9.23, 1.14), (9.29, 0.09), (9.34, 0.88),
           (9.4, 0.31), (9.45, 0.16), (9.51, 1.25), (9.59, 0.9), (9.68, -0.33), (9.73, 0.4), (9.79, 0.2),
           (9.87, 1.38), (9.96, -0.13), (10.01, 0.53), (10.07, -0.22), (10.15, 0.09), (10.24, 0.79),
           (10.29, 0.72), (10.35, 0.31), (10.43, 0.26), (10.52, -0.13), (10.57, 0.07), (10.71, 0.13),
           (10.8, 0.46), (10.85, 0.26), (10.99, -0.48), (11.08, 0.4), (11.19, 1.14), (11.27, 0.05), (11.41, 0.09),
           (11.97, 0.64), (12.03, -0.22), (12.11, 0.26), (12.2, 0.37), (12.59, 0.7), (12.67, 0.64), (12.76, 0.18),
           (12.81, 0.64), (12.95, 0.09), (13.09, 0.83), (13.31, 0.46), (13.43, 0.37), (13.6, 0.31), (13.71, 0.13),
           (13.87, 0.7), (13.99, 0.79), (14.07, 1.2), (14.15, 0.88), (14.21, 0.68), (14.29, 1.36), (14.35, 0.53),
           (14.43, 0.7), (14.49, 1.09), (14.57, 0.96), (14.63, 0.09), (14.71, 1.05), (14.77, 0.0), (14.82, 0.88),
           (14.91, -0.06), (14.99, 1.18), (15.05, 0.96), (15.1, 0.88), (15.19, 0.7), (15.24, 1.27), (15.33, 0.59),
           (15.38, 0.33), (15.47, 0.61), (15.55, 0.44), (15.61, 0.83), (15.66, 0.26), (15.75, 0.92), (15.83, 0.72),
           (15.89, 0.53), (15.94, 1.05), (16.03, 0.16), (16.11, 0.57), (16.17, 0.79), (16.22, 0.7), (16.31, 1.01),
           (16.39, 0.33), (16.45, 0.75), (16.5, 0.9), (16.59, 0.5), (16.67, 1.12), (16.73, 0.9), (16.78, 0.55),
           (16.87, 0.09), (16.95, 0.37), (17.01, 0.66), (17.06, 0.88), (17.15, 1.62), (17.23, 0.94), (17.29, 1.66),
           (17.34, 1.05), (17.43, 0.61), (17.51, 1.64), (17.57, 1.18), (17.62, 1.75), (17.71, 1.14), (17.79, 1.36),
           (17.85, 2.25), (17.9, 1.18), (17.99, 1.66), (18.07, 2.01), (18.13, 1.36), (18.18, 1.05), (18.27, 0.75),
           (18.35, 1.23), (18.41, 1.68), (18.46, 1.9), (18.55, 2.6), (18.63, 1.14), (18.69, 1.27), (18.74, 2.21),
           (18.83, 1.86), (18.91, 0.92), (18.86, 2.4), (18.97, 1.47)]

sites = [
    ('Corn (US-Bi2)', bi2_cloud, bi2_gpp, bi2_sif),
    ('Woody Savanna (US-Ton)', ton_cloud, ton_gpp, ton_sif),
    ('Grassland (US-Var)', var_cloud, var_gpp, var_sif),
    ('Wetland (US-Tw1)', tw1_cloud, tw1_gpp, tw1_sif),
    ('Wetland (US-Tw4)', tw4_cloud, tw4_gpp, tw4_sif),
    ('Wetland (US-Tw5)', tw5_cloud, tw5_gpp, tw5_sif),
]

green = '#4aa127'
axis_k = '#262626'
cloud_gray = '#d6d6d6'

fig = plt.figure(figsize=(13.49, 8.41), dpi=100)
lefts = [0.0576, 0.3946, 0.7319]
rows = [(0.541, 0.4094), (0.0348, 0.4083)]


def draw_site(pos, title, cloud, gpp, sif):
    ax = fig.add_axes(pos)
    cx, clo, chi = zip(*cloud)
    ax.fill_between(cx, clo, chi, color=cloud_gray, lw=0, zorder=1)
    gx, gy = zip(*gpp)
    ax.scatter(gx, gy, s=14, color='black', lw=0, zorder=2)
    ax.axvline(12, color='#3a3a3a', lw=1.2, zorder=3)
    ax.text(0.15, 79.2, '2018', rotation=90, va='top', ha='left', fontsize=10.5, zorder=4)
    ax.text(12.15, 79.2, '2019', rotation=90, va='top', ha='left', fontsize=10.5, zorder=4)

    ax.set_xlim(0, 24)
    ax.set_ylim(-10, 80)
    ax.set_xticks(month_ticks)
    ax.set_xticklabels(month_labels)
    ax.yaxis.set_major_locator(MultipleLocator(10))
    ax.yaxis.set_minor_locator(MultipleLocator(2))
    ax.set_axisbelow(True)
    ax.grid(axis='y', which='major', color='#dcdcdc', lw=1.1, zorder=0)
    ax.tick_params(which='both', direction='out', colors=axis_k, labelsize=14, top=True, right=False)
    ax.tick_params(which='major', length=4, width=0.9)
    ax.tick_params(which='minor', length=2.2, width=0.8)
    ax.tick_params(axis='x', which='minor', bottom=False, top=False)
    for s in ['left', 'top', 'bottom']:
        ax.spines[s].set_color(axis_k)
        ax.spines[s].set_linewidth(1.0)
    ax.spines['right'].set_visible(False)
    ax.set_ylabel('GPP ($\\mu$mol/m$^2$/s)', fontsize=16, labelpad=2)
    ax.set_title(title, fontsize=17.5, fontweight='bold', pad=4)

    ax2 = ax.twinx()
    sx, sy = zip(*sif)
    ax2.scatter(sx, sy, s=34, facecolors='white', edgecolors=green, linewidths=0.9, zorder=5)
    ax2.set_ylim(-0.5, 4)
    ax2.yaxis.set_major_locator(MultipleLocator(0.5))
    ax2.yaxis.set_minor_locator(MultipleLocator(0.1))
    ax2.yaxis.set_major_formatter(FuncFormatter(lambda v, p: '%g' % round(v, 2)))
    ax2.tick_params(axis='y', which='both', direction='out', colors=green, labelsize=14)
    ax2.tick_params(axis='y', which='major', length=4, width=0.9)
    ax2.tick_params(axis='y', which='minor', length=2.2, width=0.8)
    for s in ['left', 'top', 'bottom']:
        ax2.spines[s].set_visible(False)
    ax2.spines['right'].set_color(green)
    ax2.spines['right'].set_linewidth(1.0)
    ax2.set_ylabel('SIF (mW/m$^2$/sr/nm)', color=green, fontsize=15.5, labelpad=1)


k = 0
for bottom, height in rows:
    for left in lefts:
        title, cloud, gpp, sif = sites[k]
        draw_site([left, bottom, 0.2117, height], title, cloud, gpp, sif)
        k += 1

fig.savefig('out.png', dpi=100)
